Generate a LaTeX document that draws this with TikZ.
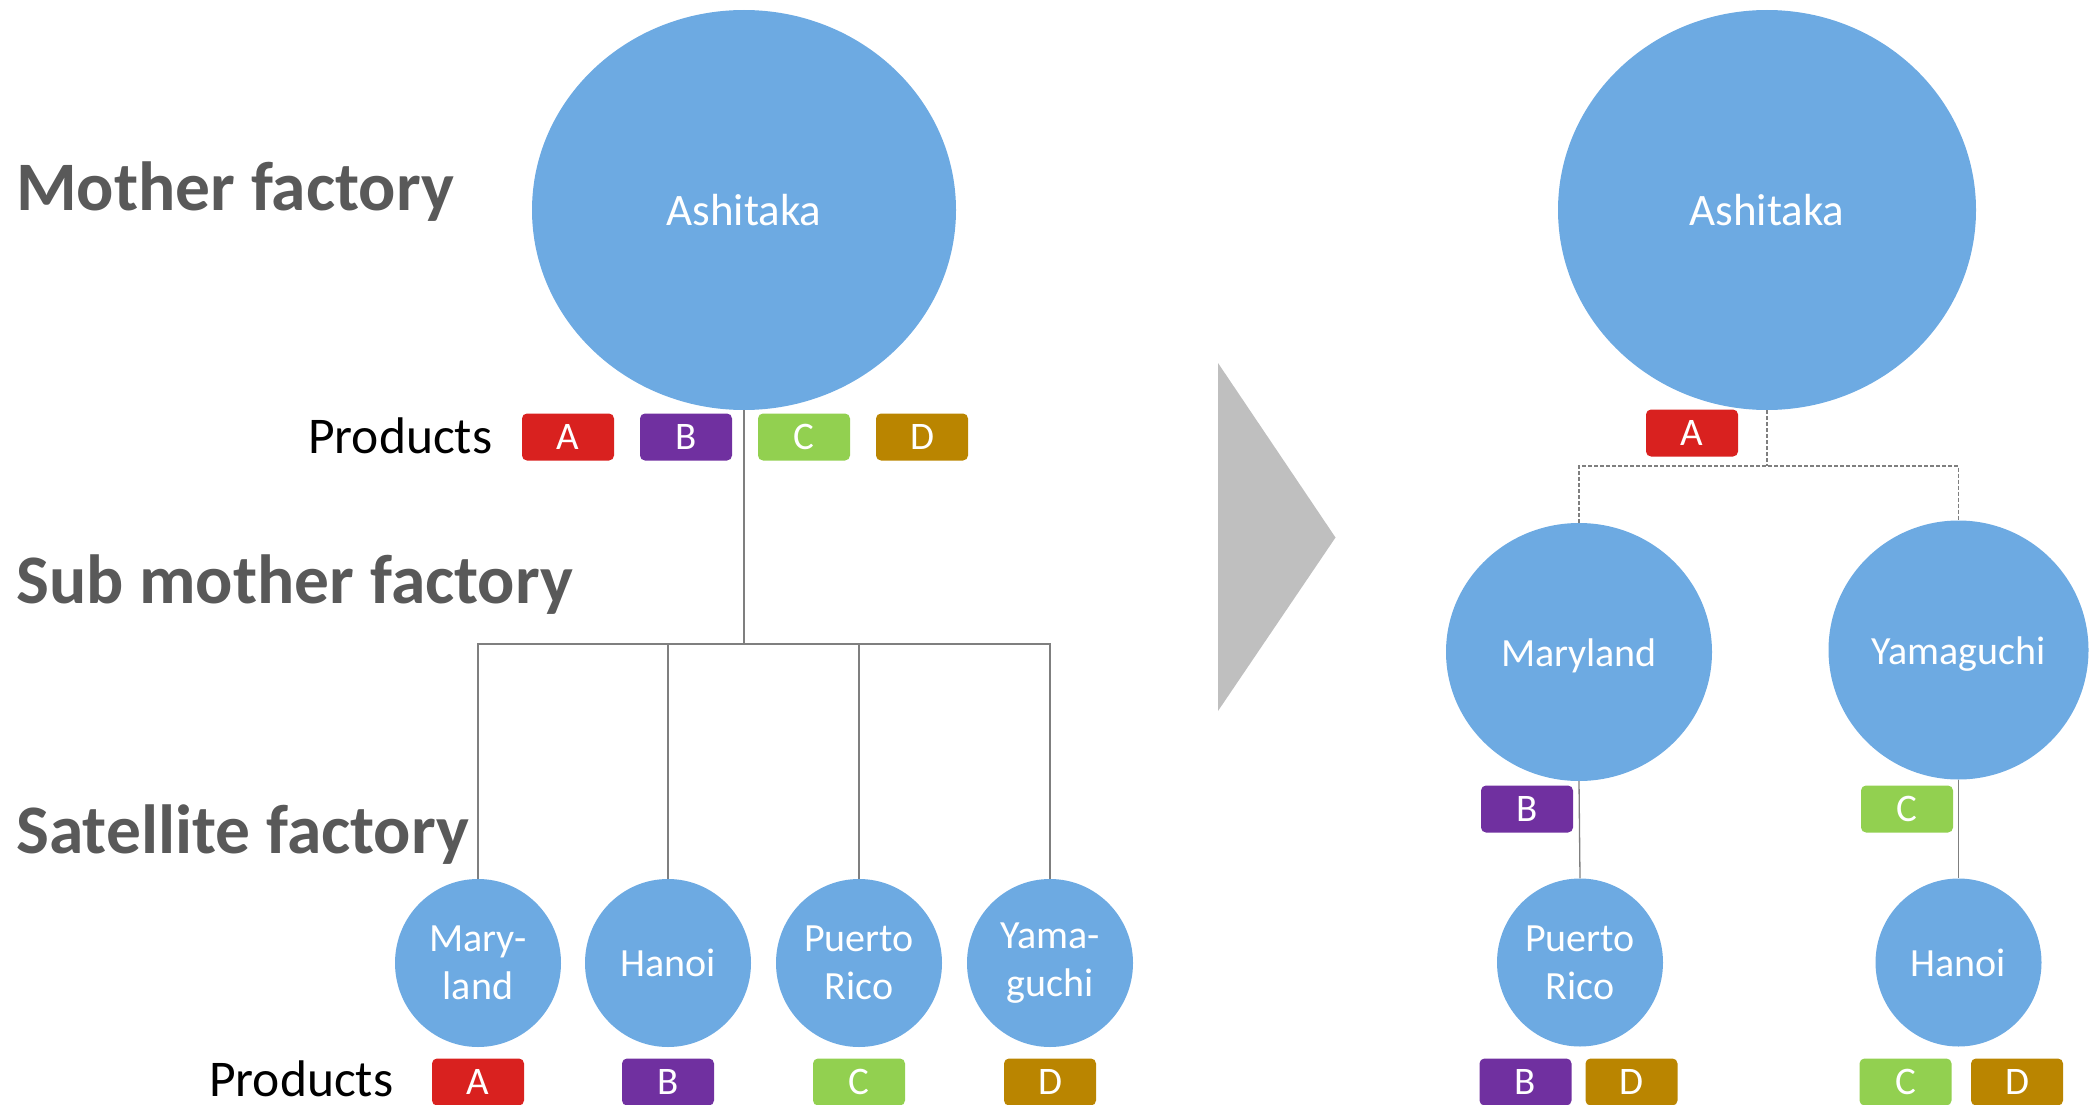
\documentclass[tikz,border=0pt]{standalone}
\usepackage{fontspec}
\setmainfont{Carlito}
\usetikzlibrary{shapes.geometric}
\definecolor{blueF}{HTML}{6DAAE2}
\definecolor{redP}{HTML}{D9211F}
\definecolor{purpP}{HTML}{7030A0}
\definecolor{greenP}{HTML}{92D050}
\definecolor{goldP}{HTML}{BA8500}
\definecolor{lineG}{HTML}{7F7F7F}
\definecolor{headG}{HTML}{595959}
\definecolor{arrowG}{HTML}{BFBFBF}
\tikzset{
  fac/.style={ellipse, fill=blueF, draw=none, inner sep=0pt, text=white, align=center,
    font=\fontsize{40}{48}\selectfont},
  bigfac/.style={fac, minimum width=424pt, minimum height=400pt, font=\fontsize{45}{54}\selectfont},
  satfac/.style={fac, minimum width=166pt, minimum height=168pt},
  prod/.style={rounded corners=5pt, minimum width=92pt, minimum height=47pt, inner sep=0pt,
    text=white, font=\fontsize{39}{44}\selectfont},
  heading/.style={anchor=base west, inner sep=0pt, text=headG, font=\fontsize{69.5}{80}\selectfont\bfseries},
  plabel/.style={anchor=base west, inner sep=0pt, text=black, font=\fontsize{51.5}{60}\selectfont},
  conn/.style={draw=lineG, line width=1.3pt},
  dconn/.style={conn, dash pattern=on 4pt off 2pt}
}
\begin{document}
\begin{tikzpicture}[x=1pt,y=-1pt]
\useasboundingbox (0,0) rectangle (2094,1105);

% headings
\node[heading] (h1) at (16,210) {Mother factory};
\node[heading] (h2) at (16,603) {Sub mother factory};
\node[heading] (h3) at (16,853) {Satellite factory};

% left tree
\node[bigfac] (ashL) at (744,210) {Ashitaka};
\node[plabel] (pl1) at (308,453) {Products};
\node[prod, fill=redP] (pa1) at (568,437) {A};
\node[prod, fill=purpP] (pb1) at (686,437) {B};
\node[prod, fill=greenP] (pc1) at (804,437) {C};
\node[prod, fill=goldP] (pd1) at (922,437) {D};

\coordinate (busL) at (744,644);
\node[satfac] (s1) at (478,963) {Mary-\\land};
\node[satfac] (s2) at (668,963) {Hanoi};
\node[satfac] (s3) at (859,963) {Puerto\\Rico};
\node[satfac] (s4) at (1050,963) {Yama-\\guchi};

\draw[conn] (ashL.south) -- (busL);
\draw[conn] (s1.north) |- (busL) -| (s4.north);
\draw[conn] (s2.north) -- (s2.north |- busL);
\draw[conn] (s3.north) -- (s3.north |- busL);

\node[plabel] (pl2) at (209,1096) {Products};
\node[prod, fill=redP] (pa2) at (478,1082) {A};
\node[prod, fill=purpP] (pb2) at (668,1082) {B};
\node[prod, fill=greenP] (pc2) at (859,1082) {C};
\node[prod, fill=goldP] (pd2) at (1050,1082) {D};

% arrow
\fill[arrowG] (1218,363) -- (1335.5,537.5) -- (1218,711) -- cycle;

% right tree
\node[bigfac, minimum width=418pt] (ashR) at (1767,210) {Ashitaka};
\node[prod, fill=redP] (pa3) at (1692,433) {A};
\coordinate (busR) at (1767,466);
\node[fac, minimum width=266pt, minimum height=258pt, text height=38pt, text depth=10pt] (md) at (1579,652) {Maryland};
\node[fac, minimum width=260pt, minimum height=259pt, text height=38pt, text depth=10pt] (ym) at (1958.5,650) {Yamaguchi};
\draw[dconn] (ashR.south) -- (busR);
\draw[dconn] (md.north) |- (busR) -| (ym.north);

\node[prod, fill=purpP] (pb3) at (1527,809) {B};
\node[prod, fill=greenP] (pc3) at (1907,809) {C};

\node[satfac] (pr) at (1580,962.5) {Puerto\\Rico};
\node[satfac] (hn) at (1958.5,962.5) {Hanoi};
\draw[conn] (md.south) -- (pr.north);
\draw[conn] (ym.south) -- (hn.north);

\node[prod, fill=purpP] (pb4) at (1525.5,1082) {B};
\node[prod, fill=goldP] (pd4) at (1631.5,1082) {D};
\node[prod, fill=greenP] (pc4) at (1905.5,1082) {C};
\node[prod, fill=goldP] (pd5) at (2017,1082) {D};
\end{tikzpicture}
\end{document}
